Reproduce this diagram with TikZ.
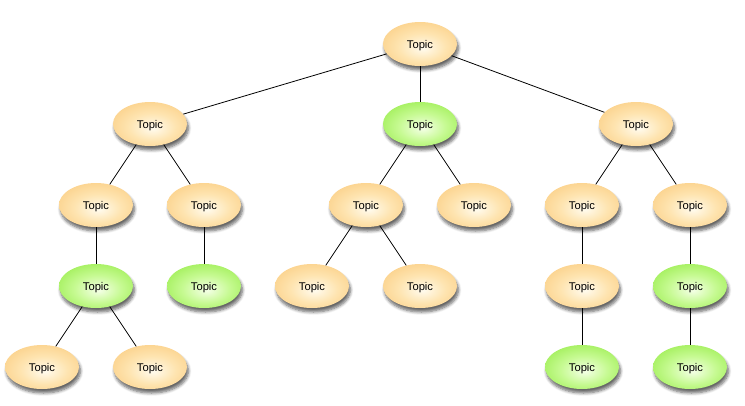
\documentclass[tikz,border=0pt]{standalone}
\usepackage{fontspec}
\setmainfont{Liberation Sans}
\usetikzlibrary{shapes.geometric,shadows.blur}

% Topic fills: pale centre fading to a saturated rim
\definecolor{orangein}{RGB}{255,251,238}
\definecolor{orangemid}{RGB}{254,228,176}
\definecolor{orangeout}{RGB}{249,194,108}
\definecolor{greenin}{RGB}{244,255,230}
\definecolor{greenmid}{RGB}{198,250,146}
\definecolor{greenout}{RGB}{132,230,44}

\pgfdeclareradialshading{topicorange}{\pgfpoint{2bp}{-5bp}}{%
  color(0bp)=(orangein); color(16bp)=(orangemid); color(42bp)=(orangeout); color(50bp)=(orangeout)}
\pgfdeclareradialshading{topicgreen}{\pgfpoint{2bp}{-5bp}}{%
  color(0bp)=(greenin); color(16bp)=(greenmid); color(42bp)=(greenout); color(50bp)=(greenout)}

\tikzset{
  topic/.style={ellipse, minimum width=74pt, minimum height=44pt, inner sep=0pt,
    font=\fontsize{11.2}{13}\selectfont, text depth=0pt, text height=8pt,
    blur shadow={shadow xshift=1.5pt, shadow yshift=-4pt, shadow blur steps=6,
      shadow blur radius=3pt, shadow opacity=60},
    shading=topicorange},
  hot/.style={topic, shading=topicgreen},
  link/.style={line width=0.8pt, black}
}

\begin{document}
\begin{tikzpicture}[x=1pt,y=-1pt]
\useasboundingbox (0,0) rectangle (745,405);

% root
\node[topic] (r) at (420,44) {Topic};

% first level
\node[topic] (a) at (150,124) {Topic};
\node[hot]   (b) at (420,124) {Topic};
\node[topic] (c) at (636,124) {Topic};

% second level
\node[topic] (a1) at (96,205)  {Topic};
\node[topic] (a2) at (204,205) {Topic};
\node[topic] (b1) at (366,205) {Topic};
\node[topic] (b2) at (474,205) {Topic};
\node[topic] (c1) at (582,205) {Topic};
\node[topic] (c2) at (690,205) {Topic};

% third level
\node[hot]   (a11) at (96,286)  {Topic};
\node[hot]   (a21) at (204,286) {Topic};
\node[topic] (b11) at (312,286) {Topic};
\node[topic] (b12) at (420,286) {Topic};
\node[topic] (c11) at (582,286) {Topic};
\node[hot]   (c21) at (690,286) {Topic};

% fourth level
\node[topic] (a111) at (42,367)  {Topic};
\node[topic] (a112) at (150,367) {Topic};
\node[hot]   (c111) at (582,367) {Topic};
\node[hot]   (c211) at (690,367) {Topic};

% connectors
\draw[link] (r) -- (a);
\draw[link] (r) -- (b);
\draw[link] (r) -- (c);
\draw[link] (a) -- (a1);
\draw[link] (a) -- (a2);
\draw[link] (b) -- (b1);
\draw[link] (b) -- (b2);
\draw[link] (c) -- (c1);
\draw[link] (c) -- (c2);
\draw[link] (a1) -- (a11);
\draw[link] (a2) -- (a21);
\draw[link] (b1) -- (b11);
\draw[link] (b1) -- (b12);
\draw[link] (c1) -- (c11);
\draw[link] (c2) -- (c21);
\draw[link] (a11) -- (a111);
\draw[link] (a11) -- (a112);
\draw[link] (c11) -- (c111);
\draw[link] (c21) -- (c211);
\end{tikzpicture}
\end{document}
